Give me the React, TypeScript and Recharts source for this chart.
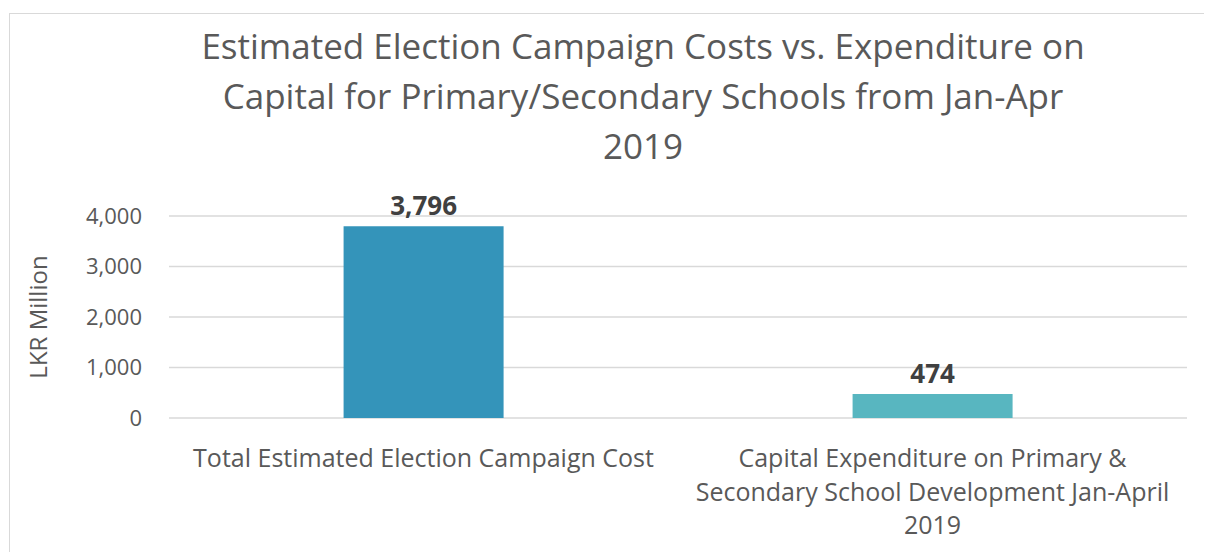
import { BarChart, Bar, XAxis, YAxis, CartesianGrid, LabelList, Cell } from "recharts"

const categories = [
  "Total Estimated Election Campaign Cost",
  "Capital Expenditure on Primary & Secondary School Development Jan-April 2019",
]
const categoryLines = [
  ["Total Estimated Election Campaign Cost"],
  ["Capital Expenditure on Primary &", "Secondary School Development Jan-April", "2019"],
]
const values = [3796, 474]
const barColors = ["#3494BA", "#58B6C0"]
const yTicks = [0, 1000, 2000, 3000, 4000]
const titleLines = [
  "Estimated Election Campaign Costs vs. Expenditure on",
  "Capital for Primary/Secondary Schools from Jan-Apr",
  "2019",
]

const FONT = "'Open Sans', 'Noto Sans', sans-serif"

const chartData = categories.map((name, i) => ({ name, value: values[i] }))

function CategoryTick(props: any) {
  const { x, y, index } = props
  const lines = categoryLines[index] || []
  return (
    <text x={x} y={y + 41} textAnchor="middle" fill="#595959" fontSize={25} fontFamily={FONT}>
      {lines.map((line, i) => (
        <tspan key={i} x={x} dy={i === 0 ? 0 : 33.5}>
          {line}
        </tspan>
      ))}
    </text>
  )
}

export default function App() {
  return (
    <div style={{ position: "relative", width: 1204, height: 544, overflow: "hidden", background: "#fff" }}>
      <div
        style={{
          position: "absolute",
          left: 1,
          top: 5,
          width: 1300,
          height: 700,
          border: "1px solid #d9d9d9",
          boxSizing: "border-box",
        }}
      />
      <div
        style={{
          position: "absolute",
          left: 0,
          width: 1270,
          top: 13,
          textAlign: "center",
          fontFamily: FONT,
          fontSize: 35,
          lineHeight: "50px",
          color: "#595959",
        }}
      >
        {titleLines.map((t, i) => (
          <div key={i}>{t}</div>
        ))}
      </div>
      <div style={{ position: "absolute", left: 0, top: 0 }}>
        <BarChart
          width={1204}
          height={544}
          data={chartData}
          margin={{ top: 208, right: 25, left: 0, bottom: 0 }}
          barCategoryGap="34.3%"
        >
          <CartesianGrid vertical={false} stroke="#d9d9d9" strokeWidth={1.5} />
          <XAxis
            dataKey="name"
            height={134}
            axisLine={false}
            tickLine={false}
            interval={0}
            tick={<CategoryTick />}
          />
          <YAxis
            width={161}
            domain={[0, 4000]}
            ticks={yTicks}
            axisLine={false}
            tickLine={false}
            tickMargin={21}
            tickFormatter={(v: number) => v.toLocaleString("en-US")}
            tick={{ fill: "#595959", fontSize: 22, fontFamily: FONT }}
            label={{
              content: ({ viewBox }: any) => (
                <text
                  x={29}
                  y={viewBox.y + viewBox.height / 2}
                  transform={`rotate(-90, 29, ${viewBox.y + viewBox.height / 2})`}
                  textAnchor="middle"
                  dominantBaseline="central"
                  fill="#595959"
                  fontSize={24}
                  fontFamily={FONT}
                >
                  LKR Million
                </text>
              ),
            }}
          />
          <Bar dataKey="value" isAnimationActive={false}>
            {chartData.map((d, i) => (
              <Cell key={d.name} fill={barColors[i]} />
            ))}
            <LabelList
              dataKey="value"
              position="top"
              offset={11}
              formatter={(v: any) => Number(v).toLocaleString("en-US")}
              style={{ fill: "#404040", fontSize: 26, fontWeight: 700, fontFamily: FONT }}
            />
          </Bar>
        </BarChart>
      </div>
    </div>
  )
}
